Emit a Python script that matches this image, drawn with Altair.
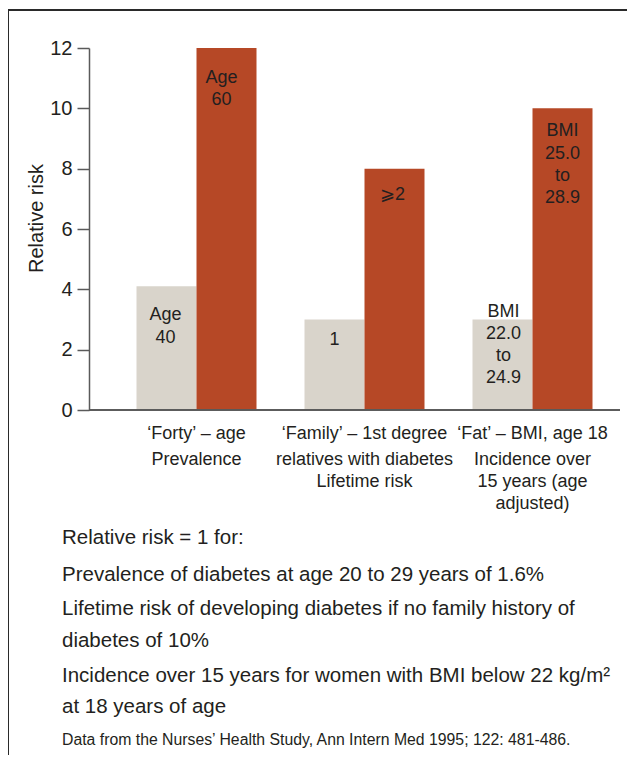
import altair as alt
import pandas as pd

# ---------------- data ----------------
groups = ["Forty", "Family", "Fat"]
series = ["low", "high"]
low_values = [4.1, 3.0, 3.0]
high_values = [12.0, 8.0, 10.0]
low_labels = ["Age\n40", "1", "BMI\n22.0\nto\n24.9"]
high_labels = ["Age\n60", "⩾2", "BMI\n25.0\nto\n28.9"]
group_titles = ["‘Forty’ – age", "‘Family’ – 1st degree", "‘Fat’ – BMI, age 18"]
group_subtitles = ["Prevalence", "relatives with diabetes\nLifetime risk",
                   "Incidence over\n15 years (age\nadjusted)"]
y_ticks = [0, 2, 4, 6, 8, 10, 12]
footnotes = [
    "Relative risk = 1 for:",
    "Prevalence of diabetes at age 20 to 29 years of 1.6%",
    "Lifetime risk of developing diabetes if no family history of",
    "diabetes of 10%",
    "Incidence over 15 years for women with BMI below 22 kg/m²",
    "at 18 years of age",
]
source_note = "Data from the Nurses’ Health Study, Ann Intern Med 1995; 122: 481-486."

# ---------------- layout / style ----------------
FONT = "Liberation Sans"
TXT = "#231f20"
AXC = "#5a5a5a"
GREY = "#d9d4cb"
RED = "#b64826"
W, H = 531, 362

rows = []
for i, g in enumerate(groups):
    rows.append({"group": g, "series": "low", "value": low_values[i], "label": low_labels[i]})
    rows.append({"group": g, "series": "high", "value": high_values[i], "label": high_labels[i]})
bars_df = pd.DataFrame(rows)
groups_df = pd.DataFrame({"group": groups, "title": group_titles, "sub": group_subtitles})

x_enc = alt.X("group:N", sort=groups, axis=None,
              scale=alt.Scale(domain=groups, range=[47.5, 503.5],
                              paddingInner=0.2857, paddingOuter=0))
xo_enc = alt.XOffset("series:N", sort=series,
                     scale=alt.Scale(domain=series, paddingInner=0, paddingOuter=0))
y_scale = alt.Scale(domain=[0, 12], nice=False)

bars = alt.Chart(bars_df).mark_bar().encode(
    x=x_enc,
    xOffset=xo_enc,
    y=alt.Y("value:Q", scale=y_scale,
            axis=alt.Axis(values=y_ticks, grid=False, tickSize=12, labelPadding=5,
                          labelFontSize=20, labelFont=FONT, labelColor=TXT,
                          domainColor=AXC, tickColor=AXC, domainWidth=1.5, tickWidth=1.5,
                          title="Relative risk", titleFont=FONT, titleFontSize=20,
                          titleFontWeight="normal", titleColor=TXT, titleAngle=-90,
                          titleX=-47, titleY=170, titleAlign="center",
                          titleBaseline="alphabetic")),
    color=alt.Color("series:N", scale=alt.Scale(domain=series, range=[GREY, RED]), legend=None),
)

# (group, series): (dx, dy) of the first label line relative to the bar top
label_pos = {("Forty", "high"): (-5, 35), ("Forty", "low"): (-1, 34), ("Family", "low"): (0, 25),
             ("Family", "high"): (-2, 31), ("Fat", "low"): (1, -3), ("Fat", "high"): (0, 28)}

layers = [bars]
for (g, s), (dx, dy) in label_pos.items():
    layers.append(
        alt.Chart(bars_df)
        .transform_filter((alt.datum.group == g) & (alt.datum.series == s))
        .mark_text(dx=dx, dy=dy, baseline="alphabetic", align="center", lineBreak="\n",
                   lineHeight=22.3, fontSize=18, font=FONT, color=TXT)
        .encode(x=x_enc, xOffset=xo_enc, y=alt.Y("value:Q", scale=y_scale), text="label:N")
    )

# x baseline
layers.append(alt.Chart(groups_df).mark_rule(color=AXC, strokeWidth=1.5).encode(
    x=alt.value(0), x2=alt.value(W), y=alt.datum(0)))

# group labels
layers.append(alt.Chart(groups_df).mark_text(
    baseline="alphabetic", align="center", fontSize=18, font=FONT, color=TXT).encode(
    x=x_enc, y=alt.value(391), text="title:N"))
layers.append(alt.Chart(groups_df).mark_text(
    baseline="alphabetic", align="center", fontSize=18, font=FONT, color=TXT,
    lineBreak="\n", lineHeight=22).encode(
    x=x_enc, y=alt.value(417), text="sub:N"))

# frame lines
layers.append(alt.Chart(groups_df).mark_rule(color="#2a2a2a", strokeWidth=2).encode(
    x=alt.value(-81), x2=alt.value(540), y=alt.value(-38)))
layers.append(alt.Chart(groups_df).mark_rule(color="#2a2a2a", strokeWidth=2).encode(
    x=alt.value(-81), y=alt.value(-38), y2=alt.value(720)))

# footnotes
note_baselines = [544, 581, 615, 647, 682, 713]
for txt, yb in zip(footnotes, note_baselines):
    layers.append(alt.Chart(pd.DataFrame({"t": [txt]})).mark_text(
        baseline="alphabetic", align="left", fontSize=20.5, font=FONT, color=TXT).encode(
        x=alt.value(-27), y=alt.value(yb - 48), text="t:N"))
layers.append(alt.Chart(pd.DataFrame({"t": [source_note]})).mark_text(
    baseline="alphabetic", align="left", fontSize=15.8, font=FONT, color=TXT).encode(
    x=alt.value(-27), y=alt.value(745 - 48), text="t:N"))

chart = alt.layer(*layers).properties(
    width=W, height=H,
    autosize=alt.AutoSizeParams(type="none"),
    padding={"left": 81, "top": 40, "right": 7, "bottom": 345},
).configure_view(stroke=None)

chart.save("out.html", embed_options={"renderer": "svg", "actions": False})
